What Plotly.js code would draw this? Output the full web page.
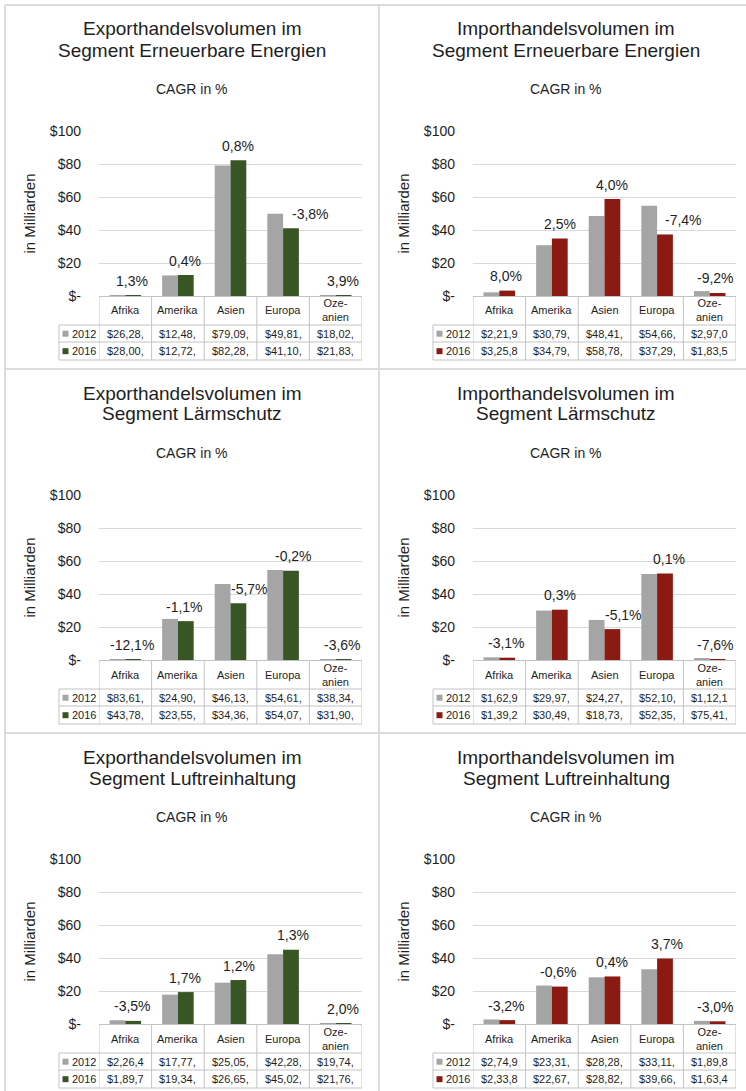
<!DOCTYPE html>
<html><head><meta charset="utf-8">
<script src="https://cdn.plot.ly/plotly-3.0.1.min.js"></script>
<style>html,body{margin:0;padding:0;background:#fff}#chart{width:746px;height:1091px}</style>
</head><body><div id="chart"></div>
<script>
// ---------- data ----------
const categories = ['Afrika', 'Amerika', 'Asien', 'Europa', 'Ozeanien'];
const categoryLabels = ['Afrika', 'Amerika', 'Asien', 'Europa', 'Oze-<br>anien'];
const years = ['2012', '2016'];
const yTickVals = [0, 20, 40, 60, 80, 100];
const yTickText = ['$-', '$20', '$40', '$60', '$80', '$100'];
const subTitle = 'CAGR in %';
const yTitle = 'in Milliarden';

// Export – Erneuerbare Energien (Mrd. $)
const exportErneuerbare2012 = [0.02628, 12.48, 79.09, 49.81, 0.01802];
const exportErneuerbare2016 = [0.02800, 12.72, 82.28, 41.10, 0.02183];
const exportErneuerbareCagr = ['1,3%', '0,4%', '0,8%', '-3,8%', '3,9%'];
const exportErneuerbareTab2012 = ['$26,28,', '$12,48,', '$79,09,', '$49,81,', '$18,02,'];
const exportErneuerbareTab2016 = ['$28,00,', '$12,72,', '$82,28,', '$41,10,', '$21,83,'];

// Import – Erneuerbare Energien
const importErneuerbare2012 = [2.219, 30.79, 48.41, 54.66, 2.970];
const importErneuerbare2016 = [3.258, 34.79, 58.78, 37.29, 1.835];
const importErneuerbareCagr = ['8,0%', '2,5%', '4,0%', '-7,4%', '-9,2%'];
const importErneuerbareTab2012 = ['$2,21,9', '$30,79,', '$48,41,', '$54,66,', '$2,97,0'];
const importErneuerbareTab2016 = ['$3,25,8', '$34,79,', '$58,78,', '$37,29,', '$1,83,5'];

// Export – Lärmschutz
const exportLaerm2012 = [0.08361, 24.90, 46.13, 54.61, 0.03834];
const exportLaerm2016 = [0.04378, 23.55, 34.36, 54.07, 0.03190];
const exportLaermCagr = ['-12,1%', '-1,1%', '-5,7%', '-0,2%', '-3,6%'];
const exportLaermTab2012 = ['$83,61,', '$24,90,', '$46,13,', '$54,61,', '$38,34,'];
const exportLaermTab2016 = ['$43,78,', '$23,55,', '$34,36,', '$54,07,', '$31,90,'];

// Import – Lärmschutz
const importLaerm2012 = [1.629, 29.97, 24.27, 52.10, 1.121];
const importLaerm2016 = [1.392, 30.49, 18.73, 52.35, 0.07541];
const importLaermCagr = ['-3,1%', '0,3%', '-5,1%', '0,1%', '-7,6%'];
const importLaermTab2012 = ['$1,62,9', '$29,97,', '$24,27,', '$52,10,', '$1,12,1'];
const importLaermTab2016 = ['$1,39,2', '$30,49,', '$18,73,', '$52,35,', '$75,41,'];

// Export – Luftreinhaltung
const exportLuft2012 = [2.264, 17.77, 25.05, 42.28, 0.01974];
const exportLuft2016 = [1.897, 19.34, 26.65, 45.02, 0.02176];
const exportLuftCagr = ['-3,5%', '1,7%', '1,2%', '1,3%', '2,0%'];
const exportLuftTab2012 = ['$2,26,4', '$17,77,', '$25,05,', '$42,28,', '$19,74,'];
const exportLuftTab2016 = ['$1,89,7', '$19,34,', '$26,65,', '$45,02,', '$21,76,'];

// Import – Luftreinhaltung
const importLuft2012 = [2.749, 23.31, 28.28, 33.11, 1.898];
const importLuft2016 = [2.338, 22.67, 28.82, 39.66, 1.634];
const importLuftCagr = ['-3,2%', '-0,6%', '0,4%', '3,7%', '-3,0%'];
const importLuftTab2012 = ['$2,74,9', '$23,31,', '$28,28,', '$33,11,', '$1,89,8'];
const importLuftTab2016 = ['$2,33,8', '$22,67,', '$28,82,', '$39,66,', '$1,63,4'];

// ---------- styles ----------
const FONT = '"Liberation Sans", Arial, Helvetica, sans-serif';
const TXT = '#1e1e1e';
const GRAY = '#a5a5a5';
const GREEN = '#375623';
const RED = '#8b1a12';
const GRID = '#d9d9d9';
const TABLE = '#c3c3c3';
const FRAME = '#dcdcdc';

const panels = [
  {title: ['Exporthandelsvolumen im', 'Segment Erneuerbare Energien'], v12: exportErneuerbare2012, v16: exportErneuerbare2016, cagr: exportErneuerbareCagr, t12: exportErneuerbareTab2012, t16: exportErneuerbareTab2016, color: GREEN, shift: [7, 7, 7.5, 27, 7]},
  {title: ['Importhandelsvolumen im', 'Segment Erneuerbare Energien'], v12: importErneuerbare2012, v16: importErneuerbare2016, cagr: importErneuerbareCagr, t12: importErneuerbareTab2012, t16: importErneuerbareTab2016, color: RED, shift: [7, 8, 7, 26, 6]},
  {title: ['Exporthandelsvolumen im', 'Segment Lärmschutz'], v12: exportLaerm2012, v16: exportLaerm2016, cagr: exportLaermCagr, t12: exportLaermTab2012, t16: exportLaermTab2016, color: GREEN, shift: [7, 7, 18.5, 10, 7]},
  {title: ['Importhandelsvolumen im', 'Segment Lärmschutz'], v12: importLaerm2012, v16: importLaerm2016, cagr: importLaermCagr, t12: importLaermTab2012, t16: importLaermTab2016, color: RED, shift: [7, 8, 18.5, 12, 6]},
  {title: ['Exporthandelsvolumen im', 'Segment Luftreinhaltung'], v12: exportLuft2012, v16: exportLuft2016, cagr: exportLuftCagr, t12: exportLuftTab2012, t16: exportLuftTab2016, color: GREEN, shift: [7, 7, 8.5, 10, 7]},
  {title: ['Importhandelsvolumen im', 'Segment Luftreinhaltung'], v12: importLuft2012, v16: importLuft2016, cagr: importLuftCagr, t12: importLuftTab2012, t16: importLuftTab2016, color: RED, shift: [7, 7, 7.5, 10, 6]}
];

const W = 746, H = 1091;
const px = x => x / W;
const py = y => 1 - y / H;

const traces = [], annotations = [], shapes = [];
const layout = {
  width: W, height: H,
  margin: {l: 0, r: 0, t: 0, b: 0},
  barmode: 'group', bargap: 0.4, bargroupgap: 0,
  showlegend: false,
  font: {family: FONT, color: TXT},
  paper_bgcolor: '#ffffff', plot_bgcolor: 'rgba(0,0,0,0)',
  annotations: annotations, shapes: shapes
};

// panel frames
const line = (x0, y0, x1, y1, color, w) => ({type: 'line', xref: 'paper', yref: 'paper', x0: px(x0), y0: py(y0), x1: px(x1), y1: py(y1), line: {color: color, width: w}});
shapes.push(line(5, 5, 746, 5, FRAME, 2));
shapes.push(line(5, 5, 5, 1091, FRAME, 2));
shapes.push(line(379, 5, 379, 1091, FRAME, 2));
shapes.push(line(5, 369, 746, 369, FRAME, 2));
shapes.push(line(5, 733, 746, 733, FRAME, 2));

panels.forEach((p, i) => {
  const r = Math.floor(i / 2), c = i % 2;
  const ox = c * 374, oy = r * 364;
  const n = i + 1;
  const xa = 'x' + (n === 1 ? '' : n), ya = 'y' + (n === 1 ? '' : n);
  layout['xaxis' + (n === 1 ? '' : n)] = {
    domain: [px(99 + ox), px(362 + ox)], anchor: ya, type: 'category',
    range: [-0.5, 4.5], showticklabels: false, ticks: '', showgrid: false,
    zeroline: false, showline: true, linecolor: TABLE, linewidth: 1, fixedrange: true
  };
  layout['yaxis' + (n === 1 ? '' : n)] = {
    domain: [py(296 + oy), py(131 + oy)], anchor: xa, range: [0, 100],
    tickmode: 'array', tickvals: yTickVals, ticktext: yTickText,
    showgrid: true, gridcolor: GRID, gridwidth: 1, zeroline: false, showline: false,
    ticks: '', tickfont: {size: 14, color: TXT}, ticklabelstandoff: 17,
    title: {text: yTitle, font: {size: 15, color: TXT}, standoff: 10},
    fixedrange: true
  };
  traces.push({type: 'bar', name: years[0], x: categories, y: p.v12, xaxis: xa, yaxis: ya, marker: {color: GRAY}, hoverinfo: 'x+y+name'});
  traces.push({type: 'bar', name: years[1], x: categories, y: p.v16, xaxis: xa, yaxis: ya, marker: {color: p.color}, hoverinfo: 'x+y+name'});

  // titles
  annotations.push({xref: 'paper', yref: 'paper', x: px(192 + ox), y: py(29 + oy), text: p.title[0], showarrow: false, xanchor: 'center', yanchor: 'middle', font: {size: 19}});
  annotations.push({xref: 'paper', yref: 'paper', x: px(192 + ox), y: py(50 + oy), text: p.title[1], showarrow: false, xanchor: 'center', yanchor: 'middle', font: {size: 19}});
  annotations.push({xref: 'paper', yref: 'paper', x: px(192 + ox), y: py(89 + oy), text: subTitle, showarrow: false, xanchor: 'center', yanchor: 'middle', font: {size: 14}});

  categories.forEach((cat, k) => {
    // CAGR labels
    annotations.push({xref: xa, yref: ya, x: cat, y: p.v16[k], text: p.cagr[k], showarrow: false, xanchor: 'center', yanchor: 'middle', xshift: p.shift[k], yshift: 14.5, font: {size: 14}});
    // table cells
    annotations.push({xref: xa, yref: 'paper', x: cat, y: py(310.5 + oy), text: categoryLabels[k], showarrow: false, xanchor: 'center', yanchor: 'middle', font: {size: 11}});
    annotations.push({xref: xa, yref: 'paper', x: cat, y: py(333.7 + oy), text: p.t12[k], showarrow: false, xanchor: 'center', yanchor: 'middle', font: {size: 11}});
    annotations.push({xref: xa, yref: 'paper', x: cat, y: py(351.2 + oy), text: p.t16[k], showarrow: false, xanchor: 'center', yanchor: 'middle', font: {size: 11}});
  });
  // table grid
  for (let k = 0; k <= categories.length; k++) {
    shapes.push({type: 'line', xref: xa, yref: 'paper', x0: k - 0.5, x1: k - 0.5, y0: py(296 + oy), y1: py(360 + oy), line: {color: TABLE, width: 1}});
  }
  [325, 342, 360].forEach(y => shapes.push(line(59 + ox, y + oy, 362 + ox, y + oy, TABLE, 1)));
  shapes.push(line(59 + ox, 325 + oy, 59 + ox, 360 + oy, TABLE, 1));
  // legend keys + year labels
  [[years[0], 333.7, GRAY], [years[1], 351.2, p.color]].forEach(([yr, yc, col]) => {
    shapes.push({type: 'rect', xref: 'paper', yref: 'paper', x0: px(62.5 + ox), x1: px(68.5 + ox), y0: py(yc + 3 + oy), y1: py(yc - 3 + oy), line: {width: 0}, fillcolor: col});
    annotations.push({xref: 'paper', yref: 'paper', x: px(70 + ox), y: py(yc + oy), text: yr, showarrow: false, xanchor: 'left', yanchor: 'middle', font: {size: 11}});
  });
});

Plotly.newPlot('chart', traces, layout, {displayModeBar: false});
</script>
</body></html>
